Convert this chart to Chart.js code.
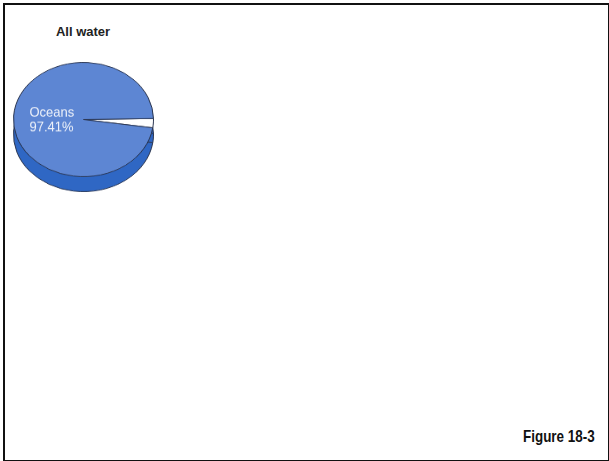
<!DOCTYPE html>
<html>
<head>
<meta charset="utf-8">
<script src="https://cdn.jsdelivr.net/npm/chart.js@4/dist/chart.umd.min.js"></script>
<style>
  html,body{margin:0;padding:0;background:#fff;}
  #page{position:relative;width:609px;height:461px;overflow:hidden;font-family:"Liberation Sans",Arial,sans-serif;}
  #frame{position:absolute;left:3px;top:3px;width:603px;height:455px;border:2px solid #111;}
  .pie{position:absolute;left:13px;width:141px;height:141px;transform-origin:0 0;transform:scaleY(0.816);}
  #side{top:77px;}
  #face{top:62px;}
  #title{position:absolute;left:33px;width:100px;top:24px;text-align:center;font-weight:bold;font-size:13px;color:#222;}
  #fig{position:absolute;left:523px;top:427px;font-weight:bold;font-size:17px;color:#111;transform-origin:0 0;transform:scaleX(0.79);white-space:nowrap;}
</style>
</head>
<body>
<div id="page">
  <div id="frame"></div>
  <div class="pie" id="side"><canvas id="sideCanvas" width="141" height="141"></canvas></div>
  <div class="pie" id="face"><canvas id="faceCanvas" width="141" height="141"></canvas></div>
  <div id="title">All water</div>
  <div id="fig">Figure 18-3</div>
</div>
<script>
// ====== DATA ======
const LABELS = ['Other', 'Oceans'];
const VALUES = [2.59, 97.41];
const LABEL_TEXT = ['', 'Oceans'];
const PCT_TEXT = ['', '97.41%'];

// ====== STYLE ======
const FACE_COLORS = ['#ffffff', '#5d86d3'];
const SIDE_COLORS = ['#2f67c4', '#2f67c4'];
const SQUASH = 0.816;
const START_DEG = 89;

// labels drawn un-squashed so they look normal after the css scaleY
const labelPlugin = {
  id: 'oceanLabel',
  afterDraw(chart){
    const arc = chart.getDatasetMeta(0).data[1];
    if(!arc) return;
    const ctx = chart.ctx;
    ctx.save();
    ctx.translate(arc.x - arc.outerRadius + 16, arc.y);
    ctx.scale(1, 1/SQUASH);
    ctx.fillStyle = '#eef2fa';
    ctx.font = '13px "Liberation Sans", Arial, sans-serif';
    ctx.fillText(LABEL_TEXT[1], 0, -2.5);
    ctx.fillText(PCT_TEXT[1], 0, 11.5);
    ctx.restore();
  }
};

function makePie(id, colors, plugins){
  return new Chart(document.getElementById(id).getContext('2d'), {
    type: 'pie',
    data: { labels: LABELS, datasets: [{ data: VALUES, backgroundColor: colors, borderColor: '#2a3550', borderWidth: 1 }] },
    options: {
      responsive: false, animation: false, rotation: START_DEG,
      layout: { padding: 0 },
      plugins: { legend: { display: false }, tooltip: { enabled: false }, title: { display: false } }
    },
    plugins: plugins
  });
}

makePie('sideCanvas', SIDE_COLORS, []);
makePie('faceCanvas', FACE_COLORS, [labelPlugin]);
</script>
</body>
</html>
